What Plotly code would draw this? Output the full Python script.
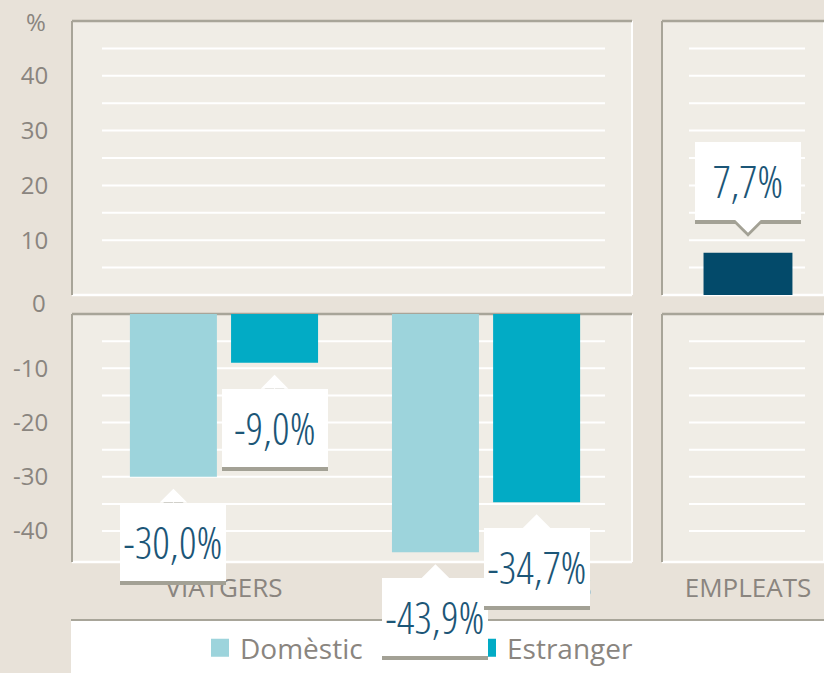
import plotly.graph_objects as go

# ---------------- data ----------------
left_categories = ["VIATGERS", "PERNOCTACIONS"]
domestic_values = [-30.0, -43.9]
foreign_values = [-9.0, -34.7]
right_categories = ["EMPLEATS"]
employee_values = [7.7]
top_tick_values = [10, 20, 30, 40]
top_tick_text = ["10", "20", "30", "40"]
bottom_tick_values = [-10, -20, -30, -40]
bottom_tick_text = ["-10", "-20", "-30", "-40"]
top_grid_values = [5, 10, 15, 20, 25, 30, 35, 40, 45]
bottom_grid_values = [-5, -10, -15, -20, -25, -30, -35, -40]
series_names = ["Domèstic", "Estranger"]

# ---------------- style ----------------
W, H = 824, 673
PAPER = "#E8E2D9"
PANEL = "#F0EDE6"
BORDER = "#A8A599"
SHADOW = "#A3A195"
GRID = "#FFFFFF"
C_DOM = "#9DD4DC"
C_EST = "#02ABC5"
C_EMP = "#034A6A"
TXT = "#8A857F"
VAL = "#1C5677"
BASE_FONT = "Open Sans"
VAL_FONT = "Open Sans Condensed Light"

def px_x(p):
    return p / W

def px_y(p):
    return 1 - p / H

left_dom = [px_x(72), px_x(632)]
right_dom = [px_x(662), 1.0]
top_dom = [px_y(295), px_y(21)]
bot_dom = [px_y(562), px_y(314)]

LEFT_RANGE = [-0.58, 1.557]
RIGHT_RANGE = [-0.5, 0.442]
BAR_W = 0.332
OFFSETS = [-0.359, 0.027]
EMP_W = 0.517

fig = go.Figure()

for name, vals, col, off in zip(series_names, [domestic_values, foreign_values], [C_DOM, C_EST], OFFSETS):
    for xa, ya in (("x", "y"), ("x3", "y3")):
        fig.add_trace(go.Bar(x=left_categories, y=vals, name=name, width=BAR_W, offset=off,
                             marker=dict(color=col, line=dict(width=0)), showlegend=False,
                             xaxis=xa, yaxis=ya, hoverinfo="skip"))
for xa, ya in (("x2", "y2"), ("x4", "y4")):
    fig.add_trace(go.Bar(x=right_categories, y=employee_values, name="Empleats", width=EMP_W,
                         offset=-EMP_W / 2, marker=dict(color=C_EMP, line=dict(width=0)),
                         showlegend=False, xaxis=xa, yaxis=ya, hoverinfo="skip"))

for name, col in zip(series_names, [C_DOM, C_EST]):
    fig.add_trace(go.Scatter(x=[None], y=[None], mode="markers", name=name,
                             marker=dict(symbol="square", size=16, color=col,
                                         line=dict(width=2, color=col)),
                             xaxis="x3", yaxis="y3"))

common_x = dict(showgrid=False, zeroline=False, showline=False, fixedrange=True)
common_y = dict(showgrid=False, zeroline=False, showline=False, fixedrange=True,
                ticks="outside", ticklen=18, tickcolor="rgba(0,0,0,0)")
yfont = dict(family=BASE_FONT, size=24, color=TXT)
xfont = dict(family=BASE_FONT, size=26, color=TXT)

fig.update_layout(
    xaxis=dict(domain=left_dom, anchor="y", range=LEFT_RANGE, showticklabels=False,
               matches="x3", **common_x),
    xaxis3=dict(domain=left_dom, anchor="y3", range=LEFT_RANGE, tickfont=xfont,
                ticks="outside", ticklen=3, tickcolor="rgba(0,0,0,0)", **common_x),
    xaxis2=dict(domain=right_dom, anchor="y2", range=RIGHT_RANGE, showticklabels=False,
                matches="x4", **common_x),
    xaxis4=dict(domain=right_dom, anchor="y4", range=RIGHT_RANGE, tickfont=xfont,
                ticks="outside", ticklen=3, tickcolor="rgba(0,0,0,0)", **common_x),
    yaxis=dict(domain=top_dom, anchor="x", range=[0, 50], tickvals=top_tick_values,
               ticktext=top_tick_text, tickfont=yfont, **common_y),
    yaxis2=dict(domain=top_dom, anchor="x2", range=[0, 50], showticklabels=False, **common_y),
    yaxis3=dict(domain=bot_dom, anchor="x3", range=[-45.7, 0], tickvals=bottom_tick_values,
                ticktext=bottom_tick_text, tickfont=yfont, **common_y),
    yaxis4=dict(domain=bot_dom, anchor="x4", range=[-45.7, 0], showticklabels=False, **common_y),
)

shapes = []
shapes.append(dict(type="rect", xref="paper", yref="paper", x0=px_x(71), x1=1, y0=0, y1=px_y(620),
                   fillcolor="white", line=dict(width=0), layer="below"))
shapes.append(dict(type="line", xref="paper", yref="paper", x0=px_x(71), x1=1, y0=px_y(620), y1=px_y(620),
                   line=dict(color=BORDER, width=2), layer="below"))

panels = [("x", "y", top_grid_values, 30 / 560, 1 - 27 / 560),
          ("x2", "y2", top_grid_values, 27 / 162, 143 / 162),
          ("x3", "y3", bottom_grid_values, 30 / 560, 1 - 27 / 560),
          ("x4", "y4", bottom_grid_values, 27 / 162, 143 / 162)]
for xa, ya, gv, g0, g1 in panels:
    xd, yd = xa + " domain", ya + " domain"
    shapes.append(dict(type="rect", xref=xd, yref=yd, x0=0, x1=1, y0=0, y1=1,
                       fillcolor=PANEL, line=dict(width=0), layer="below"))
    for v in gv:
        shapes.append(dict(type="line", xref=xd, yref=ya, x0=g0, x1=g1, y0=v, y1=v,
                           line=dict(color=GRID, width=2), layer="below"))
    shapes.append(dict(type="line", xref=xd, yref=yd, x0=0, x1=1, y0=0, y1=0,
                       line=dict(color="white", width=2.5), layer="below"))
    shapes.append(dict(type="line", xref=xd, yref=yd, x0=1, x1=1, y0=0, y1=1,
                       line=dict(color="white", width=2), layer="below"))
    shapes.append(dict(type="line", xref=xd, yref=yd, x0=0, x1=1, y0=1, y1=1,
                       line=dict(color=BORDER, width=2.5), layer="below"))
    shapes.append(dict(type="line", xref=xd, yref=yd, x0=0, x1=0, y0=0, y1=1,
                       line=dict(color=BORDER, width=2), layer="below"))

def fmt(v):
    return f"{v:.1f}".replace(".", ",") + "%"

annotations = []
label_specs = []
for vals, off in zip([domestic_values, foreign_values], OFFSETS):
    for i, v in enumerate(vals):
        label_specs.append(("x3" if v < 0 else "x", "y3" if v < 0 else "y", i + off + BAR_W / 2, v))
for i, v in enumerate(employee_values):
    label_specs.append(("x4" if v < 0 else "x2", "y4" if v < 0 else "y2", i, v))

for xr, yr, xc, v in label_specs:
    neg = v < 0
    ay = 65 if neg else -72
    stand = 12 if neg else 20
    base = dict(xref=xr, yref=yr, x=xc, y=v, showarrow=True, arrowhead=1, arrowsize=4.6,
                arrowwidth=1, standoff=stand, ax=0, ay=ay, width=106, height=78,
                borderpad=0, borderwidth=0)
    annotations.append(dict(base, text=" ", bgcolor=SHADOW, arrowcolor=SHADOW, yshift=-4))
    annotations.append(dict(base, text=fmt(v), bgcolor="white", arrowcolor="white",
                            font=dict(family=VAL_FONT, size=44, color=VAL)))

annotations.append(dict(xref="paper", yref="paper", x=px_x(48), y=px_y(22), text="%",
                        showarrow=False, xanchor="right", yanchor="middle",
                        font=dict(family=BASE_FONT, size=24, color=TXT)))
annotations.append(dict(xref="paper", yref="paper", x=px_x(48), y=px_y(303), text="0",
                        showarrow=False, xanchor="right", yanchor="middle",
                        font=dict(family=BASE_FONT, size=24, color=TXT)))

fig.update_layout(
    width=W, height=H, margin=dict(l=0, r=0, t=0, b=0),
    paper_bgcolor=PAPER, plot_bgcolor=PANEL,
    barmode="overlay",
    shapes=shapes, annotations=annotations,
    legend=dict(orientation="h", x=px_x(200), xanchor="left", y=px_y(648), yanchor="middle",
                bgcolor="rgba(0,0,0,0)", font=dict(family=BASE_FONT, size=28, color=TXT),
                entrywidth=222, itemclick=False, itemdoubleclick=False),
)

fig.write_html("out.html")
